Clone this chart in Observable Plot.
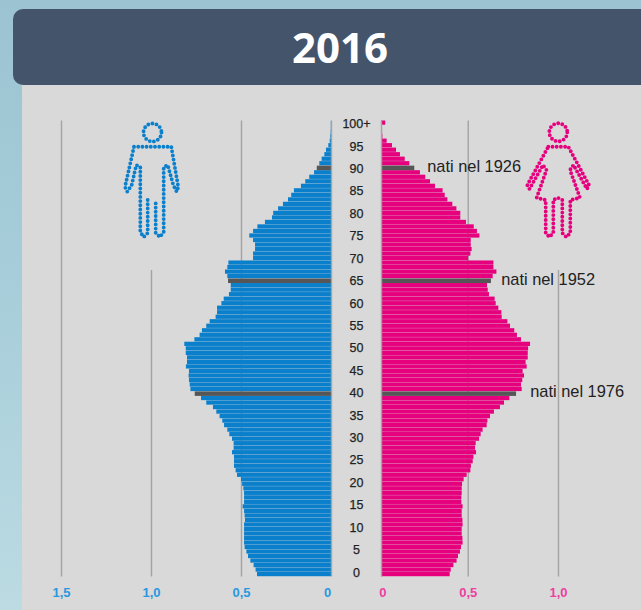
<!DOCTYPE html>
<html><head><meta charset="utf-8">
<script src="https://cdn.jsdelivr.net/npm/d3@7"></script>
<script src="https://cdn.jsdelivr.net/npm/@observablehq/plot@0.6"></script>
<style>
html,body{margin:0;padding:0;overflow:hidden}
#page{position:relative;width:641px;height:610px;overflow:hidden;background:linear-gradient(180deg,#9cc3d1 0%,#a6cdd9 45%,#bcdbe3 100%)}
#panel{position:absolute;left:22px;top:85px;right:0;bottom:0;background:#d9d9d9}
#head{position:absolute;left:13px;top:9px;width:654px;height:76px;background:#44546a;border-radius:10px;color:#fff;
font:700 42px "Open Sans",sans-serif;line-height:76px;text-align:center}
#chart{position:absolute;left:0;top:0}
#chart svg{display:block;background:transparent}
#icons{position:absolute;left:0;top:0;pointer-events:none}
</style></head>
<body><div id="page"><div id="panel"></div><div id="head">2016</div><div id="chart"></div>
<svg id="icons" width="641" height="610" fill="none" stroke-linecap="round" stroke-linejoin="round" stroke-width="3.9" stroke-dasharray="0 4.2">
<g stroke="#0a7fcc">
<circle cx="152.5" cy="132.5" r="9"/>
<path d="M134,146.7H171.3L178.3,187L176.7,191.7L173.3,185L167.7,165L163.7,167V232L160,237L155.7,233V200M147.7,200V233L143.7,237L140.3,232V167L136.3,165L131.7,185L127.3,191.7L125,187L134,146.7"/>
</g>
<g stroke="#e6007e">
<circle cx="558.3" cy="132.3" r="9"/>
<path d="M548.3,146.7H568.3L589,185L587,189L573.5,165L570,170L580,197.7L570.3,200V233L566.3,237L562.3,233V200L557.7,197.7L553.3,200V233L549.3,237L545.7,233V200L536.7,197.7L546.5,170L543,165L529.5,189L527.3,185L548.3,146.7"/>
</g>
</svg>
</div>
<script>
const ages = d3.range(0, 101);
const male = [.411,.419,.430,.448,.461,.470,.480,.483,.483,.483,.483,.483,.478,.480,.483,.491,.483,.483,.483,.487,
.494,.500,.522,.530,.539,.539,.539,.550,.541,.541,.550,.565,.576,.594,.604,.619,.637,.656,.693,.722,
.757,.781,.785,.789,.791,.789,.806,.800,.800,.807,.807,.815,.759,.730,.717,.693,.674,.641,.633,.633,
.609,.596,.567,.557,.557,.572,.576,.589,.576,.570,.433,.433,.422,.422,.433,.454,.433,.409,.367,.328,
.321,.294,.267,.239,.221,.206,.167,.143,.121,.094,.079,.065,.052,.037,.028,.015,.007,.004,.002,.001,.001];
const female = [.388,.394,.409,.427,.435,.446,.452,.461,.460,.456,.456,.461,.460,.456,.456,.461,.454,.454,.456,.456,
.458,.467,.484,.505,.508,.518,.522,.537,.531,.535,.554,.563,.574,.597,.601,.616,.638,.672,.695,.725,
.763,.795,.791,.798,.808,.800,.823,.817,.829,.829,.831,.842,.791,.768,.753,.729,.714,.682,.680,.663,
.648,.642,.610,.603,.599,.621,.631,.652,.635,.635,.492,.505,.512,.507,.507,.556,.542,.524,.480,.448,
.448,.426,.403,.375,.360,.348,.305,.277,.250,.220,.188,.160,.134,.107,.085,.062,.032,.008,.006,.004,.024];
const markedAges = [40, 65, 90];
const ageLabels = [0,5,10,15,20,25,30,35,40,45,50,55,60,65,70,75,80,85,90,95,100];
const notes = [
  {label:"nati nel 1926", age:90, value:.258},
  {label:"nati nel 1952", age:65, value:.676},
  {label:"nati nel 1976", age:40, value:.84}
];
const maleTicks = [{v:1.5,t:"1,5"},{v:1.0,t:"1,0"},{v:.5,t:"0,5"},{v:.022,t:"0"}];
const femaleTicks = [{v:.008,t:"0"},{v:.49,t:"0,5"},{v:1.0,t:"1,0"}];

// shared axis: male values run left from 0, female values run right from an offset zero
const FEMALE_ZERO = 50/180, FEMALE_K = 177/180;
const mx = v => -v, wx = v => FEMALE_ZERO + v*FEMALE_K;
const blue = "#0a7fcc", pink = "#e6007e", dark = "#565656", grey = "#a3a3a3";
const rows = ages.map((a,i)=>({age:a, m:male[i], f:female[i], marked:markedAges.includes(a)}));
const plain = rows.filter(d=>!d.marked), marked = rows.filter(d=>d.marked);
const AGE_TOP = 100.5, AGE_BOTTOM = -0.5, SHORT_TOP = 67.4;
const CENTER = FEMALE_ZERO/2;

const bars = (data, isDark) => [
  Plot.rectX(data,{x1:()=>mx(0),x2:d=>mx(d.m),y1:d=>d.age-.5,y2:d=>d.age+.5,fill:isDark?dark:blue,insetBottom:isDark?0:.28}),
  Plot.rectX(data,{x1:()=>wx(0),x2:d=>wx(d.f),y1:d=>d.age-.5,y2:d=>d.age+.5,fill:isDark?dark:pink,insetBottom:isDark?0:.28})
];

const plot = Plot.plot({
  width:641, height:610, margin:0,
  style:{background:"transparent"},
  x:{domain:[-1.5,310/180], range:[61,641], axis:null},
  y:{domain:[AGE_BOTTOM,AGE_TOP], range:[576.5,120.5], axis:null},
  marks:[
    Plot.ruleX([mx(1.5),mx(.5),wx(.49)],{x:d=>d,y1:()=>AGE_BOTTOM,y2:()=>AGE_TOP,stroke:grey,strokeWidth:1.4}),
    Plot.ruleX([mx(1),wx(1)],{x:d=>d,y1:()=>AGE_BOTTOM,y2:()=>SHORT_TOP,stroke:grey,strokeWidth:1.4}),
    ...bars(plain, false),
    ...bars(marked, true),
    Plot.ruleX([mx(0),wx(0)],{x:d=>d,y1:()=>AGE_BOTTOM,y2:()=>AGE_TOP,stroke:grey,strokeWidth:1.4}),
    Plot.text(ageLabels,{x:()=>CENTER,y:d=>.487+.993*d,text:d=>d===100?"100+":String(d),
      fontFamily:"Liberation Sans",fontSize:12.5,fill:"#222",stroke:"#222",strokeWidth:.25}),
    Plot.text(notes,{x:d=>wx(d.value),y:d=>d.age,dy:-2,text:d=>d.label,textAnchor:"start",
      fontFamily:"Liberation Sans",fontSize:16.4,fill:"#222"}),
    Plot.text(maleTicks,{x:d=>mx(d.v),y:()=>AGE_BOTTOM,dy:15.5,text:d=>d.t,
      fontFamily:"Liberation Sans",fontWeight:700,fontSize:13,fill:"#2a98df"}),
    Plot.text(femaleTicks,{x:d=>wx(d.v),y:()=>AGE_BOTTOM,dy:15.5,text:d=>d.t,
      fontFamily:"Liberation Sans",fontWeight:700,fontSize:13,fill:"#ee3fa2"})
  ]
});
document.getElementById("chart").appendChild(plot);
</script></body></html>
